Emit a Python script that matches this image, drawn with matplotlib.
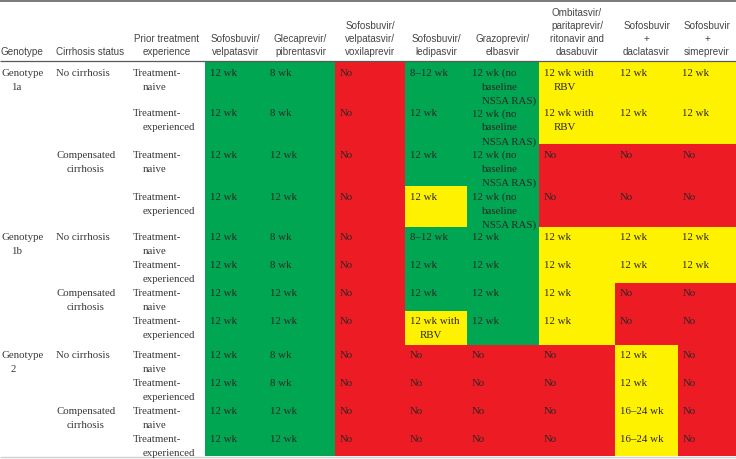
import matplotlib
matplotlib.use('Agg')
import matplotlib.pyplot as plt
from matplotlib.patches import Rectangle

# table contents
genotype = ['Genotype\n1a', '', '', '',
            'Genotype\n1b', '', '', '',
            'Genotype\n2', '', '', '']
cirrhosis = ['No cirrhosis', '', 'Compensated\ncirrhosis', ''] * 3
experience = ['Treatment-\nnaive', 'Treatment-\nexperienced'] * 6

left_headers = ['Genotype', 'Cirrhosis status', 'Prior treatment\nexperience']
regimens = ['Sofosbuvir/\nvelpatasvir', 'Glecaprevir/\npibrentasvir',
            'Sofosbuvir/\nvelpatasvir/\nvoxilaprevir', 'Sofosbuvir/\nledipasvir',
            'Grazoprevir/\nelbasvir', 'Ombitasvir/\nparitaprevir/\nritonavir and\ndasabuvir',
            'Sofosbuvir\n+\ndaclatasvir', 'Sofosbuvir\n+\nsimeprevir']

NS5A = '12 wk (no\nbaseline\nNS5A RAS)'
cells = [
    ['12 wk', '8 wk', 'No', '8–12 wk', NS5A, '12 wk with\nRBV', '12 wk', '12 wk'],
    ['12 wk', '8 wk', 'No', '12 wk', NS5A, '12 wk with\nRBV', '12 wk', '12 wk'],
    ['12 wk', '12 wk', 'No', '12 wk', NS5A, 'No', 'No', 'No'],
    ['12 wk', '12 wk', 'No', '12 wk', NS5A, 'No', 'No', 'No'],
    ['12 wk', '8 wk', 'No', '8–12 wk', '12 wk', '12 wk', '12 wk', '12 wk'],
    ['12 wk', '8 wk', 'No', '12 wk', '12 wk', '12 wk', '12 wk', '12 wk'],
    ['12 wk', '12 wk', 'No', '12 wk', '12 wk', '12 wk', 'No', 'No'],
    ['12 wk', '12 wk', 'No', '12 wk with\nRBV', '12 wk', '12 wk', 'No', 'No'],
    ['12 wk', '8 wk', 'No', 'No', 'No', 'No', '12 wk', 'No'],
    ['12 wk', '8 wk', 'No', 'No', 'No', 'No', '12 wk', 'No'],
    ['12 wk', '12 wk', 'No', 'No', 'No', 'No', '16–24 wk', 'No'],
    ['12 wk', '12 wk', 'No', 'No', 'No', 'No', '16–24 wk', 'No'],
]
# G = recommended, Y = alternative, R = not recommended
grades = [
    'GGRGGYYY',
    'GGRGGYYY',
    'GGRGGRRR',
    'GGRYGRRR',
    'GGRGGYYY',
    'GGRGGYYY',
    'GGRGGYRR',
    'GGRYGYRR',
    'GGRRRRYR',
    'GGRRRRYR',
    'GGRRRRYR',
    'GGRRRRYR',
]

# layout (pixels)
W, H = 736, 459
col_edges = [0, 52, 128, 205, 266, 335, 405, 467, 539, 615, 678, 736]
row_heights = [41, 41, 42, 41, 28, 28, 28, 34, 28, 27, 28, 28]
body_top = 62
line_step = 14
indent = 10
pad_x = 4.5

fill = {'G': '#00a651', 'Y': '#fff200', 'R': '#ed1c24'}
serif = 'Liberation Serif'
sans = 'Liberation Sans'
body_size = 7.8
head_size = 7.1
text_col = '#2a2626'


def hanging(ax, x, top, s, color):
    # first line flush, following lines indented
    for k, line in enumerate(s.split('\n')):
        ax.text(x + (indent if k else 0), top + 13.5 + k * line_step, line,
                fontsize=body_size, family=serif, color=color,
                ha='left', va='baseline')


fig = plt.figure(figsize=(W / 100, H / 100), dpi=100)
ax = fig.add_axes([0, 0, 1, 1])
ax.set_xlim(0, W)
ax.set_ylim(H, 0)
ax.axis('off')

# header
headers = left_headers + regimens
for j, h in enumerate(headers):
    cx = (col_edges[j] + col_edges[j + 1]) / 2
    if j == 0:
        cx = 22
    lines = h.split('\n')
    n = len(lines)
    for k, line in enumerate(lines):
        ax.text(cx, 55 - (n - 1 - k) * 13, line, fontsize=head_size, family=sans,
                color='#444444', ha='center', va='baseline')

ax.plot([0, W], [1, 1], color='#6d6e70', lw=1.3, solid_capstyle='butt')
ax.plot([0, W], [61, 61], color='#58595b', lw=0.9, solid_capstyle='butt')

# body
y = body_top
for i, rh in enumerate(row_heights):
    for j in range(len(regimens)):
        x0, x1 = col_edges[j + 3], col_edges[j + 4]
        ax.add_patch(Rectangle((x0, y), x1 - x0, rh, facecolor=fill[grades[i][j]],
                               edgecolor='none', lw=0))
    for j in range(len(regimens)):
        x0 = col_edges[j + 3]
        hanging(ax, x0 + pad_x, y, cells[i][j], text_col)
    for j, lab in enumerate([genotype[i], cirrhosis[i], experience[i]]):
        if lab:
            hanging(ax, col_edges[j] + (1 if j == 0 else pad_x), y, lab, '#3a3838')
    y += rh

ax.plot([0, W], [y + 1, y + 1], color='#cfcfcf', lw=1.0, solid_capstyle='butt')

fig.savefig('out.png', dpi=100)
